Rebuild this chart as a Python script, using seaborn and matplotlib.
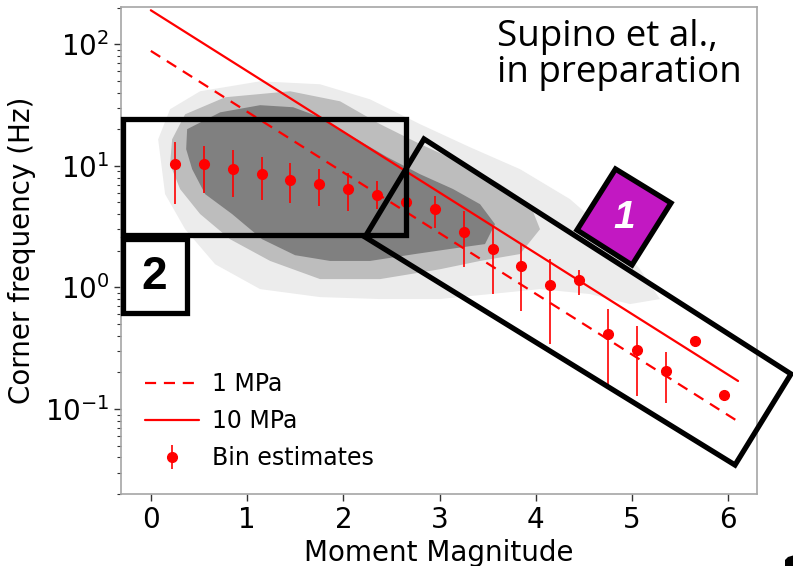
import numpy as np
import pandas as pd
import matplotlib
matplotlib.use("Agg")
import matplotlib.pyplot as plt
import seaborn as sns
from matplotlib.patches import Polygon

# Brune-model reference lines for two stress drops
line_mw = [0.0, 6.1]
fc_1mpa = [88.0, 0.079]
fc_10mpa = [190.0, 0.17]

# Binned corner-frequency estimates (value, lower and upper bound)
bin_mw = [0.25, 0.55, 0.85, 1.15, 1.45, 1.75, 2.05, 2.35, 2.65, 2.95,
          3.25, 3.55, 3.85, 4.15, 4.45, 4.75, 5.05, 5.35, 5.65, 5.95]
bin_fc = [10.3, 10.3, 9.43, 8.58, 7.71, 7.10, 6.42, 5.77, 5.02, 4.40,
          2.88, 2.06, 1.50, 1.04, 1.16, 0.413, 0.307, 0.204, 0.364, 0.131]
bin_fc_low = [4.83, 5.96, 5.52, 5.21, 4.93, 4.68, 4.26, 4.40, 4.30, 3.07,
              1.46, 0.88, 0.642, 0.342, 0.865, 0.157, 0.127, 0.111, 0.364, 0.131]
bin_fc_high = [15.6, 14.5, 13.4, 11.8, 10.5, 9.43, 8.69, 7.51, 5.80, 5.66,
               4.26, 3.17, 2.27, 1.71, 1.39, 0.663, 0.478, 0.296, 0.364, 0.131]

# Outline of the event cloud: sparse halo, denser band and core
cloud_outer_mw = [0.076, 0.200, 0.512, 1.135, 1.758, 2.277, 2.796, 3.316, 3.835, 4.354,
                  4.770, 5.081, 5.289, 4.978, 4.563, 4.043, 3.524, 3.004, 2.381, 1.758,
                  1.135, 0.668, 0.356, 0.148]
cloud_outer_fc = [16.5, 29.2, 41.0, 49.5, 46.8, 35.2, 22.0, 14.2, 9.38, 5.32,
                  2.74, 1.41, 0.802, 0.729, 0.881, 0.968, 0.881, 0.802, 0.802, 0.832,
                  0.968, 1.55, 3.01, 5.85]
cloud_mid_mw = [0.221, 0.356, 0.772, 1.447, 1.966, 2.381, 2.796, 3.212, 3.627, 3.939,
                4.043, 3.835, 3.420, 3.004, 2.381, 1.758, 1.239, 0.823, 0.512, 0.304,
                0.200]
cloud_mid_fc = [16.5, 26.5, 36.6, 41.0, 33.9, 22.0, 15.1, 10.7, 7.07, 4.84,
                3.01, 1.88, 1.65, 1.41, 1.17, 1.17, 1.65, 2.49, 4.01, 6.43,
                10.3]
cloud_core_mw = [0.377, 0.720, 1.135, 1.478, 1.758, 2.101, 2.454, 2.796, 3.139, 3.420,
                 3.575, 3.471, 3.108, 2.744, 2.277, 1.862, 1.498, 1.156, 0.844, 0.564,
                 0.429, 0.367]
cloud_core_fc = [20.0, 27.5, 31.5, 30.3, 25.1, 17.2, 11.8, 8.53, 6.44, 4.83,
                 3.31, 2.27, 2.07, 1.88, 1.65, 1.65, 1.84, 2.49, 4.01, 5.85,
                 9.38, 13.7]

x_ticks = [0, 1, 2, 3, 4, 5, 6]

sns.set_theme(style="white")
plt.rcParams["font.family"] = ["DejaVu Sans"]
plt.rcParams["mathtext.fontset"] = "dejavusans"
plt.rcParams["text.color"] = "black"
plt.rcParams["axes.labelcolor"] = "black"
plt.rcParams["xtick.labelcolor"] = "black"
plt.rcParams["ytick.labelcolor"] = "black"

W, H = 793, 566
fig = plt.figure(figsize=(W / 100, H / 100), dpi=100)
ax = fig.add_axes([121 / W, 1 - 494 / H, (757.3 - 121) / W, (494 - 7.3) / H])
ax.set_yscale("log")

# event cloud
for mw, fc, col in [(cloud_outer_mw, cloud_outer_fc, "#ececec"),
                    (cloud_mid_mw, cloud_mid_fc, "#bdbdbd"),
                    (cloud_core_mw, cloud_core_fc, "#808080")]:
    ax.fill(mw, fc, color=col, lw=0, zorder=1)

lines = pd.DataFrame({
    "mw": line_mw * 2,
    "fc": fc_1mpa + fc_10mpa,
    "model": ["1 MPa"] * 2 + ["10 MPa"] * 2,
})
sns.lineplot(data=lines[lines.model == "1 MPa"], x="mw", y="fc", ax=ax,
             color="red", lw=1.6, linestyle=(0, (5, 3.5)), label="1 MPa", zorder=3)
sns.lineplot(data=lines[lines.model == "10 MPa"], x="mw", y="fc", ax=ax,
             color="red", lw=1.6, label="10 MPa", zorder=3)

fc = np.array(bin_fc)
yerr = [fc - np.array(bin_fc_low), np.array(bin_fc_high) - fc]
ax.errorbar(bin_mw, fc, yerr=yerr, fmt="o", color="red", ms=7, elinewidth=1.2,
            capsize=0, label="Bin estimates", zorder=4)

ax.set_xlim(-0.31, 6.30)
ax.set_ylim(0.02, 201)
ax.set_xticks(x_ticks)
ax.set_xlabel("Moment Magnitude", fontsize=20, labelpad=4)
ax.set_ylabel("Corner frequency (Hz)", fontsize=20, labelpad=6)
ax.tick_params(axis="both", which="major", labelsize=20, length=5, width=1,
               color="#333333", direction="out", left=True, bottom=True)
ax.tick_params(axis="y", which="minor", length=3, width=0.8, color="#333333", left=True)
for s in ax.spines.values():
    s.set_color("#a6a6a6")
    s.set_linewidth(1.2)

leg = ax.legend(loc="lower left", frameon=False, fontsize=17, handlelength=2.3,
                handletextpad=0.55, labelspacing=0.55, borderaxespad=0.6)

fig.text(497 / W, 1 - 19 / H, "Supino et al.,\nin preparation", color="black",
         family="Open Sans", fontsize=26.5, ha="left", va="top", linespacing=1.0)


def fxy(px, py):
    return (px / W, 1 - py / H)


def outline(pts, fc="none", lw=3.8):
    fig.add_artist(Polygon([fxy(*p) for p in pts], closed=True, fill=fc != "none",
                           facecolor=fc, edgecolor="black", lw=lw,
                           transform=fig.transFigure, zorder=5, joinstyle="miter"))


# region boxes
outline([(123, 119), (406, 119), (406, 235), (123, 235)])
outline([(123, 239), (187, 239), (187, 313), (123, 313)])
outline([(424, 139), (791, 374), (735, 465), (365, 237)])
outline([(615.5, 169), (671, 203), (632, 265), (577, 230)], fc="#c218c2")

fig.text(*fxy(154, 277), "2", family="Liberation Sans", weight="bold", color="black",
         fontsize=33, ha="center", va="center", zorder=6)
fig.text(*fxy(624, 218), "1", family="Liberation Sans", weight="bold", style="italic",
         color="white", fontsize=28, ha="center", va="center", zorder=6)

# corner of a neighbouring panel mark
fig.add_artist(Polygon([fxy(785, 566), fxy(785, 560), fxy(788, 557), fxy(793, 555.5),
                        fxy(793, 566)], closed=True, facecolor="black", lw=0,
                       transform=fig.transFigure, zorder=6))

fig.savefig("out.png", dpi=100)
